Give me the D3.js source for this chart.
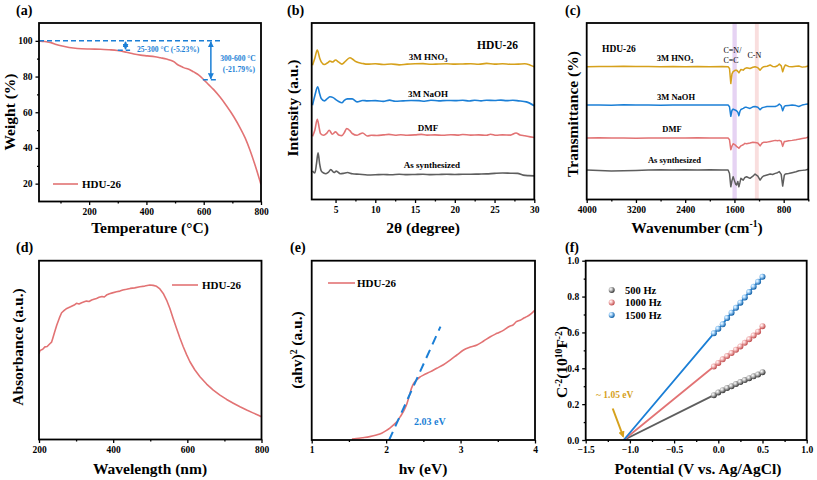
<!DOCTYPE html>
<html><head><meta charset="utf-8">
<script src="https://cdn.jsdelivr.net/npm/d3@7"></script>
<style>body{margin:0;background:#fff}svg{display:block}</style>
</head><body><svg id="c" width="817" height="480" font-family="Liberation Serif, Times New Roman, serif"></svg>
<script>
// ---------- DATA ----------
// (a) TGA
const tgaData = [[25,100],[45,99.6],[67,99],[85,98],[102,97.2],[130,96.3],[159,95.7],[200,95.4],[240,95.3],[270,95.0],[298,94.6],[330,93.6],[356,92.6],[380,92],[403,91.6],[430,91.1],[449,90.5],[470,89.8],[484,89.1],[497,88.2],[507,86.9],[520,85.8],[530,85],[550,84],[565,82.6],[583,80.8],[600,78.3],[617,75.5],[634,72.8],[657,68.5],[680,63.5],[705,57.5],[727,51.3],[745,45.5],[761,39],[780,30],[800,19.5]];
const tgaXTicks = [200,400,600,800], tgaXMinor = [100,300,500,700];
const tgaYTicks = [20,40,60,80,100], tgaYMinor = [30,50,70,90];
const tgaStep1 = {x:327, from:100, to:94.77, label:"25-300 °C (-5.23%)"};
const tgaStep2 = {x:625, from:100, to:78.21, label1:"300-600 °C", label2:"(-21.79%)"};

// (b) PXRD  [2theta, relative intensity]
const xrdNames = ["As synthesized","DMF","3M NaOH","3M HNO3"];
const xrdOffsets = [14.2, 36.4, 55.9, 76.7];
const xrdAs = [[2.1,1.9],[2.4,0.8],[2.6,6],[2.8,12.3],[3.0,6],[3.2,2.0],[3.5,0.8],[3.8,0.4],[4.1,1.2],[4.4,2.7],[4.8,1.1],[5.1,1.9],[5.6,0.4],[6.0,0.6],[6.5,1.1],[7.1,0.4],[8,0.1],[9,-0.3],[10,-0.2],[11,0],[12,-0.2],[13,0.1],[14,-0.1],[15,0],[16,0.1],[17,-0.1],[18,0],[19,0.1],[20,0],[21,0.1],[22,0.1],[23,0.2],[24,0.3],[25,0.6],[26,0.8],[27,0.7],[27.9,0.6],[28.6,-0.4],[29.3,-0.7],[30,-0.8]];
const xrdDMF = [[2.1,-0.6],[2.4,3],[2.7,9.1],[2.95,4],[3.1,1],[3.5,0],[3.9,1.2],[4.2,2.8],[4.6,0.6],[5.0,1.9],[5.4,0.2],[5.8,-0.2],[6.1,1.5],[6.4,3.8],[6.8,2.6],[7.1,1],[7.7,0],[8.0,0.6],[8.4,1.3],[9.0,-0.4],[9.5,0],[10.2,-0.1],[11,0.2],[11.7,0.5],[12.5,0],[13.2,0.3],[14,0],[15,0.2],[15.8,0.5],[16.5,0.1],[17.5,0.2],[18.5,0],[19.5,0.3],[20.5,0.1],[21,0.4],[22,0.1],[23,0.2],[24,0],[24.5,0.6],[25.2,0],[26,0.2],[27,0.1],[27.7,1.3],[28.2,0.2],[28.8,-0.3],[29.5,-0.9],[30,-1.3]];
const xrdNaOH = [[2.1,-2.5],[2.4,3],[2.75,8],[3.0,4],[3.2,1.3],[3.6,0],[4.0,1.4],[4.3,2.3],[4.7,1.8],[5.0,0.8],[5.4,-0.4],[5.8,-1.1],[6.1,0.3],[6.5,1.1],[7.1,1.1],[7.7,-0.6],[8.4,0.2],[9,0],[10,0.1],[11,-0.3],[11.8,0.4],[12.5,-0.2],[13.5,0],[14.5,0.2],[15.5,0.1],[16.2,-0.2],[17,0.3],[18,0],[19,0.2],[20,0.1],[21,0.3],[21.8,-0.1],[22.5,0.3],[23.3,0],[24,0.3],[25,0.2],[25.8,0.4],[26.5,0.1],[27.3,0.3],[28,0],[29,-0.6],[30,-2.8]];
const xrdHNO3 = [[2.1,-0.6],[2.4,3.5],[2.7,8],[3.0,3.5],[3.2,1.3],[3.6,-0.2],[4.0,0.8],[4.3,1.7],[4.6,1.2],[5.0,2.3],[5.4,1.1],[5.8,0],[6.2,1.4],[6.8,3.6],[7.2,2.6],[7.6,1.3],[8.4,0.4],[9,0],[10,0.2],[11,-0.2],[12,0.1],[13,-0.4],[14,0],[15,0.2],[16,0.3],[17,-0.1],[18,0.1],[19,0.2],[20,0],[21,0.1],[22,0.2],[23,-0.1],[24,0.4],[25,0],[26,0.2],[27,-0.1],[28,0],[28.8,0.2],[29.5,-0.6],[30,-1.5]];
const xrdXTicks = [5,10,15,20,25,30], xrdXMinor = [7.5,12.5,17.5,22.5,27.5];

// (c) FTIR [wavenumber, relative transmittance]
const irOffsets = [16.7, 34.8, 53.5, 75.2];
const irAs = [[4000,0],[3800,-0.3],[3600,-0.6],[3400,-0.4],[3200,-0.2],[3000,0],[2800,0.1],[2600,0],[2400,0.1],[2200,0],[2000,0.1],[1800,0],[1703,0],[1680,-2],[1659,-9.5],[1640,-6],[1621,-3.8],[1600,-6],[1580,-8],[1566,-8.5],[1545,-6.5],[1528,-9.5],[1510,-7],[1495,-4.7],[1457,-5.7],[1430,-4.2],[1402,-3.8],[1347,-4.7],[1300,-3.5],[1265,-2.3],[1220,-3.4],[1183,-5.7],[1150,-4],[1128,-3.4],[1070,-2.8],[1019,-2.3],[980,-2.5],[937,-1.9],[900,-1.5],[871,-0.9],[840,-2.5],[816,-9.1],[790,-3],[773,-2.3],[720,-2],[663,-1.5],[600,-1],[554,-0.4],[500,-0.2],[445,0],[400,0.4]];
const irDMF = [[4000,0],[3800,0.2],[3600,0],[3400,0.1],[3200,-0.1],[3000,0.1],[2800,0],[2600,0.1],[2400,0],[2200,0.2],[2000,0],[1800,0.1],[1703,0],[1680,-1],[1659,-6.6],[1640,-4.5],[1621,-3.2],[1590,-3.8],[1566,-4.7],[1545,-5.2],[1528,-5.7],[1495,-4.4],[1457,-3.8],[1430,-3],[1402,-3.2],[1347,-2.8],[1300,-2.4],[1265,-2.5],[1220,-2.8],[1183,-4.4],[1150,-2.8],[1128,-2.4],[1070,-2.3],[1019,-1.9],[937,-1.3],[900,-1.5],[871,-1.3],[840,-1.8],[816,-4.7],[790,-2],[773,-1.9],[720,-1.5],[663,-1.3],[600,-1],[554,-0.6],[500,-0.3],[445,0],[400,0.6]];
const irNaOH = [[4000,0],[3800,0.1],[3600,-0.1],[3400,0.2],[3200,0],[3000,0.1],[2800,-0.1],[2600,0],[2400,0.1],[2200,0],[2000,0.1],[1800,0],[1703,0],[1680,-1],[1659,-6.4],[1640,-3],[1621,-2.3],[1590,-2.8],[1566,-3.2],[1545,-4],[1528,-6],[1510,-3.5],[1495,-2.5],[1457,-1.9],[1430,-1.3],[1402,-1.3],[1347,-1.9],[1300,-1],[1265,-0.8],[1220,-1.2],[1183,-2.6],[1150,-1.5],[1128,-1.3],[1070,-0.8],[1019,-0.8],[937,-0.8],[900,-0.3],[871,0.6],[840,-0.4],[816,-3.2],[790,-0.8],[773,-0.4],[720,-0.2],[663,0],[600,-0.3],[554,-0.8],[500,0],[445,0.4],[400,0.6]];
const irHNO3 = [[4000,0],[3800,0.2],[3600,0.1],[3400,0.3],[3200,0.1],[3000,0.2],[2800,0],[2600,0.1],[2400,0],[2200,0.1],[2000,0],[1800,0.1],[1703,0],[1680,-1],[1659,-9.5],[1640,-4],[1621,-2.8],[1590,-2],[1566,-1.9],[1545,-2.6],[1528,-3.4],[1495,-1.5],[1457,-1.9],[1430,-1],[1402,-0.6],[1347,-1],[1300,-0.3],[1265,0],[1220,-0.5],[1183,-1.9],[1150,-0.5],[1128,0],[1070,0.3],[1019,1],[980,0.2],[937,0],[900,0.6],[871,1.5],[840,0.5],[816,-2.8],[790,0],[773,1],[720,0.2],[663,0],[600,0.3],[554,0.4],[500,-0.2],[445,0],[400,0.4]];
const irXTicks = [4000,3200,2400,1600,800], irXMinor = [3600,2800,2000,1200,400];
const irBands = [[1632,1562],[1268,1205]];
const irBandLabels = ["C=N/","C=C","C-N"];

// (d) UV-vis
const uvData = [[200,0.48],[202,0.495],[205,0.5],[210,0.505],[216,0.518],[222,0.52],[230,0.537],[234,0.545],[237,0.565],[242,0.6],[248,0.64],[255,0.68],[261,0.709],[268,0.722],[275,0.733],[285,0.742],[295,0.752],[301,0.762],[308,0.758],[315,0.765],[322,0.77],[328,0.774],[335,0.772],[342,0.78],[348,0.784],[355,0.789],[362,0.795],[370,0.8],[376,0.797],[382,0.808],[390,0.815],[398,0.82],[409,0.826],[418,0.83],[426,0.836],[436,0.84],[446,0.845],[458,0.848],[472,0.854],[485,0.858],[499,0.864],[508,0.862],[517,0.857],[526,0.842],[535,0.817],[544,0.78],[553,0.733],[562,0.676],[571,0.621],[580,0.568],[589,0.519],[598,0.475],[607,0.435],[620,0.39],[634,0.351],[652,0.31],[670,0.276],[688,0.248],[706,0.224],[724,0.203],[742,0.183],[760,0.165],[777,0.149],[790,0.137],[800,0.127]];
const uvXTicks = [200,400,600,800], uvXMinor = [300,500,700];

// (e) Tauc
const taucData = [[1.54,0.006],[1.6,0.008],[1.69,0.013],[1.78,0.019],[1.87,0.028],[1.94,0.038],[2.0,0.052],[2.05,0.066],[2.1,0.084],[2.15,0.105],[2.19,0.13],[2.24,0.165],[2.28,0.204],[2.31,0.245],[2.34,0.288],[2.37,0.315],[2.41,0.335],[2.45,0.35],[2.5,0.362],[2.59,0.38],[2.68,0.4],[2.77,0.42],[2.86,0.446],[2.95,0.474],[3.04,0.502],[3.13,0.518],[3.22,0.53],[3.31,0.552],[3.4,0.576],[3.49,0.595],[3.58,0.613],[3.66,0.635],[3.7,0.64],[3.75,0.66],[3.8,0.668],[3.85,0.68],[3.89,0.688],[3.95,0.705],[4.0,0.725]];
const taucFit = [[2.04,0],[2.73,0.632]];
const taucLabel = "2.03 eV";
const taucXTicks = [1,2,3,4], taucXMinor = [1.5,2.5,3.5];

// (f) Mott-Schottky
const msV = [-0.05,0,0.05,0.1,0.15,0.2,0.25,0.3,0.35,0.4,0.45,0.5];
const ms500 = [0.25,0.265,0.278,0.29,0.30,0.312,0.323,0.334,0.345,0.355,0.365,0.378];
const ms1000 = [0.41,0.43,0.45,0.468,0.485,0.503,0.522,0.542,0.562,0.583,0.604,0.635];
const ms1500 = [0.595,0.62,0.645,0.68,0.71,0.737,0.766,0.795,0.825,0.855,0.882,0.91];
const msNames = ["500 Hz","1000 Hz","1500 Hz"];
const msIntercept = -1.07;
const msLabel = "~ 1.05 eV";
const msXTicks = [-1.5,-1.0,-0.5,0.0,0.5,1.0], msXMinor = [-1.25,-0.75,-0.25,0.25,0.75];
const msYTicks = [0,0.2,0.4,0.6,0.8,1.0], msYMinor = [0.1,0.3,0.5,0.7,0.9];

// ---------- STYLE ----------
const FONT = "Liberation Serif, Times New Roman, serif";
const RED = "#e27374", GRAY = "#5e5e5e", BLUE = "#1b7fd6", GOLD = "#d6a11c";
const svg = d3.select("#c");
svg.append("rect").attr("width",817).attr("height",480).attr("fill","#fff");
const defs = svg.append("defs");

let clipId = 0;
function panel(o){
  const g = svg.append("g");
  const x = d3.scaleLinear().domain(o.xd).range([o.l,o.r]);
  const y = d3.scaleLinear().domain(o.yd).range([o.b,o.t]);
  const id = "clip"+(clipId++);
  defs.append("clipPath").attr("id",id).append("rect").attr("x",o.l).attr("y",o.t).attr("width",o.r-o.l).attr("height",o.b-o.t);
  const plot = g.append("g").attr("clip-path",`url(#${id})`);
  const axG = g.append("g");
  function style(sel){
    sel.attr("font-family",FONT);
    sel.select(".domain").remove();
    sel.selectAll(".tick line").attr("stroke","#000").attr("stroke-width",1.3);
    sel.selectAll(".tick text").attr("font-size","9.5px").attr("font-weight","bold").attr("fill","#000")
       .attr("font-family",FONT);
  }
  axG.append("g").attr("transform",`translate(0,${o.b})`)
    .call(d3.axisBottom(x).tickValues(o.xMinor).tickSize(2).tickFormat("")).call(style);
  axG.append("g").attr("transform",`translate(0,${o.b})`)
    .call(d3.axisBottom(x).tickValues(o.xt).tickSize(3.5).tickPadding(3).tickFormat(o.xf||(d=>d))).call(style);
  if(o.yt){
    axG.append("g").attr("transform",`translate(${o.l},0)`)
      .call(d3.axisLeft(y).tickValues(o.yMinor).tickSize(2).tickFormat("")).call(style);
    axG.append("g").attr("transform",`translate(${o.l},0)`)
      .call(d3.axisLeft(y).tickValues(o.yt).tickSize(3.5).tickPadding(3).tickFormat(o.yf||(d=>d))).call(style);
  }
  return {g, plot, x, y, finish(){
    g.append("rect").attr("x",o.l).attr("y",o.t).attr("width",o.r-o.l).attr("height",o.b-o.t)
      .attr("fill","none").attr("stroke","#000").attr("stroke-width",1.8);
  }};
}
function txt(s, x, y, size, opts={}){
  const t = svg.append("text").attr("x",x).attr("y",y).attr("font-size",size+"px")
    .attr("font-family",FONT)
    .attr("font-weight",opts.weight||"bold").attr("fill",opts.fill||"#000")
    .attr("text-anchor",opts.anchor||"start");
  if(opts.rotate){ t.attr("x",0).attr("y",0).attr("transform",`translate(${x},${y}) rotate(-90)`).attr("dy","0.35em"); }
  if(Array.isArray(s)){
    s.forEach(p=>{
      const sp = t.append("tspan").text(p.t);
      if(p.sup){ sp.attr("font-size",(size*0.62)+"px").attr("dy",-size*0.38); }
      else if(p.sub){ sp.attr("font-size",(size*0.65)+"px").attr("dy",size*0.25); }
      if(p.back) sp.attr("dy",p.back);
    });
  } else t.text(s);
  return t;
}
const lineGen = (x,y,curve)=> d3.line().x(d=>x(d[0])).y(d=>y(d[1])).curve(curve||d3.curveLinear);

// ---------- (a) ----------
{
  const P = panel({l:39,r:261,t:23,b:201.5,xd:[25,800],yd:[10,110],xt:tgaXTicks,xMinor:tgaXMinor,yt:tgaYTicks,yMinor:tgaYMinor});
  P.plot.append("path").datum(tgaData).attr("d",lineGen(P.x,P.y,d3.curveMonotoneX)).attr("fill","none").attr("stroke",RED).attr("stroke-width",1.6);
  const ann = P.g.append("g").attr("stroke",BLUE).attr("stroke-width",1.5).attr("fill","none");
  ann.append("line").attr("x1",P.x(25)).attr("x2",P.x(657)).attr("y1",P.y(100)).attr("y2",P.y(100)).attr("stroke-dasharray","5,3");
  const mk = defs.append("marker").attr("id","arrB").attr("viewBox","0 0 10 10").attr("refX",9).attr("refY",5)
    .attr("markerWidth",4).attr("markerHeight",4).attr("orient","auto-start-reverse");
  mk.append("path").attr("d","M0,0 L10,5 L0,10 z").attr("fill",BLUE);
  [tgaStep1,tgaStep2].forEach((s,i)=>{
    ann.append("line").attr("x1",P.x(s.x)).attr("x2",P.x(s.x)).attr("y1",P.y(s.from)+1).attr("y2",P.y(s.to)-1)
      .attr("marker-start","url(#arrB)").attr("marker-end","url(#arrB)");
    const w = i===0?[300,343]:[597,647];
    ann.append("line").attr("x1",P.x(w[0])).attr("x2",P.x(w[1])).attr("y1",P.y(s.to)).attr("y2",P.y(s.to)).attr("stroke-dasharray","5,3");
  });
  txt(tgaStep1.label,137,51.5,7.6,{fill:BLUE});
  txt(tgaStep2.label1,238,61,7.6,{fill:BLUE,anchor:"middle"});
  txt(tgaStep2.label2,239,72,7.6,{fill:BLUE,anchor:"middle"});
  P.g.append("line").attr("x1",53).attr("x2",78).attr("y1",184).attr("y2",184).attr("stroke",RED).attr("stroke-width",1.6);
  txt("HDU-26",82,188,11);
  P.finish();
  txt("(a)",16,15,14);
  txt("Weight (%)",10,112,15.5,{rotate:true,anchor:"middle"});
  txt("Temperature (°C)",150,233,15.5,{anchor:"middle"});
}
// ---------- (b) ----------
{
  const P = panel({l:311.7,r:534.3,t:23,b:199.5,xd:[2,30],yd:[0,100],xt:xrdXTicks,xMinor:xrdXMinor});
  const sets = [xrdAs,xrdDMF,xrdNaOH,xrdHNO3], cols=[GRAY,RED,BLUE,GOLD];
  sets.forEach((s,i)=>{
    P.plot.append("path").datum(s.map(d=>[d[0],d[1]+xrdOffsets[i]])).attr("d",lineGen(P.x,P.y,d3.curveMonotoneX))
      .attr("fill","none").attr("stroke",cols[i]).attr("stroke-width",1.6);
  });
  P.finish();
  txt("HDU-26",477,49,11.5);
  txt([{t:"3M HNO"},{t:"3",sub:true}],428,60,9,{anchor:"middle"});
  txt("3M NaOH",428,96.5,9,{anchor:"middle"});
  txt("DMF",428,131,9,{anchor:"middle"});
  txt("As synthesized",432,167.5,9,{anchor:"middle"});
  txt("(b)",287,15,14);
  txt("Intensity (a.u.)",293,108,15.5,{rotate:true,anchor:"middle"});
  txt("2θ (degree)",423,233,15.5,{anchor:"middle"});
}
// ---------- (c) ----------
{
  const P = panel({l:586.7,r:808.3,t:23,b:199.5,xd:[4000,400],yd:[0,100],xt:irXTicks,xMinor:irXMinor});
  const bandCols = ["#e6d3f3","#f9dede"];
  irBands.forEach((b,i)=>{
    P.plot.append("rect").attr("x",P.x(b[0])).attr("width",P.x(b[1])-P.x(b[0])).attr("y",23).attr("height",176.5).attr("fill",bandCols[i]);
  });
  const sets = [irAs,irDMF,irNaOH,irHNO3], cols=[GRAY,RED,BLUE,GOLD];
  sets.forEach((s,i)=>{
    P.plot.append("path").datum(s.map(d=>[d[0],d[1]+irOffsets[i]])).attr("d",lineGen(P.x,P.y))
      .attr("fill","none").attr("stroke",cols[i]).attr("stroke-width",1.5).attr("stroke-linejoin","round");
  });
  P.finish();
  txt("HDU-26",602,52,9.5);
  txt([{t:"3M HNO"},{t:"3",sub:true}],675,61,8.5,{anchor:"middle"});
  txt("3M NaOH",676,100,8.5,{anchor:"middle"});
  txt("DMF",672,131.5,8.5,{anchor:"middle"});
  txt("As synthesized",674.5,163,8.5,{anchor:"middle"});
  txt(irBandLabels[0],723.5,53,8,{weight:"normal"});
  txt(irBandLabels[1],723.5,63,8,{weight:"normal"});
  txt(irBandLabels[2],747.5,58,8,{weight:"normal"});
  txt("(c)",565,15,14);
  txt("Transmittance (%)",573,114,15.5,{rotate:true,anchor:"middle"});
  txt([{t:"Wavenumber (cm"},{t:"-1",sup:true},{t:")",back:5.9}],697,233,15.5,{anchor:"middle"});
}
// ---------- (d) ----------
{
  const P = panel({l:39,r:261.5,t:260.7,b:439.5,xd:[200,800],yd:[0,1],xt:uvXTicks,xMinor:uvXMinor});
  P.plot.append("path").datum(uvData).attr("d",lineGen(P.x,P.y)).attr("fill","none").attr("stroke",RED).attr("stroke-width",1.6).attr("stroke-linejoin","round");
  P.g.append("line").attr("x1",172).attr("x2",198).attr("y1",285).attr("y2",285).attr("stroke",RED).attr("stroke-width",1.6);
  txt("HDU-26",202,289,11);
  P.finish();
  txt("(d)",16,252,14);
  txt("Absorbance (a.u.)",18,347,15.5,{rotate:true,anchor:"middle"});
  txt("Wavelength (nm)",150,474,15.5,{anchor:"middle"});
}
// ---------- (e) ----------
{
  const P = panel({l:311.7,r:535,t:260.7,b:440,xd:[1,4],yd:[0,1],xt:taucXTicks,xMinor:taucXMinor});
  P.plot.append("path").datum(taucData).attr("d",lineGen(P.x,P.y,d3.curveMonotoneX)).attr("fill","none").attr("stroke",RED).attr("stroke-width",1.6);
  P.plot.append("path").datum(taucFit).attr("d",lineGen(P.x,P.y)).attr("fill","none").attr("stroke",BLUE).attr("stroke-width",2).attr("stroke-dasharray","9,6");
  P.g.append("line").attr("x1",328).attr("x2",355).attr("y1",283).attr("y2",283).attr("stroke",RED).attr("stroke-width",1.6);
  txt("HDU-26",357,287,11);
  txt(taucLabel,414,425,10,{fill:BLUE});
  P.finish();
  txt("(e)",290,252,14);
  txt([{t:"(ahv)"},{t:"2",sup:true},{t:" (a.u.)",back:5.9}],297,350,15.5,{rotate:true,anchor:"middle"});
  txt("hv (eV)",423,474,15.5,{anchor:"middle"});
}
// ---------- (f) ----------
{
  const P = panel({l:585.7,r:806.7,t:260.7,b:440,xd:[-1.5,1.0],yd:[0,1],xt:msXTicks,xMinor:msXMinor,xf:d3.format(".1f"),yt:msYTicks,yMinor:msYMinor,yf:d3.format(".1f")});
  const sets=[ms500,ms1000,ms1500], cols=[GRAY,RED,BLUE], light=["#c8c8c8","#f7c4c4","#a9d6fb"], dark=["#3a3a3a","#c24f50","#0d5ea6"];
  sets.forEach((s,i)=>{
    const gr = defs.append("radialGradient").attr("id","sph"+i).attr("cx","35%").attr("cy","35%").attr("r","65%");
    gr.append("stop").attr("offset","0%").attr("stop-color","#fff");
    gr.append("stop").attr("offset","35%").attr("stop-color",light[i]);
    gr.append("stop").attr("offset","100%").attr("stop-color",dark[i]);
    const pts = [[msIntercept,0]].concat(msV.map((v,j)=>[v,s[j]]));
    P.plot.append("path").datum(pts).attr("d",lineGen(P.x,P.y)).attr("fill","none").attr("stroke",cols[i]).attr("stroke-width",1.8);
  });
  sets.forEach((s,i)=>{
    P.plot.selectAll(null).data(msV.map((v,j)=>[v,s[j]])).join("circle")
      .attr("cx",d=>P.x(d[0])).attr("cy",d=>P.y(d[1])).attr("r",3).attr("fill",`url(#sph${i})`);
    svg.append("circle").attr("cx",611.7).attr("cy",290+i*12.5).attr("r",3).attr("fill",`url(#sph${i})`);
    txt(msNames[i],625,293.5+i*12.5,10.5);
  });
  const mk = defs.append("marker").attr("id","arrG").attr("viewBox","0 0 10 10").attr("refX",8).attr("refY",5)
    .attr("markerWidth",3.2).attr("markerHeight",3.2).attr("orient","auto");
  mk.append("path").attr("d","M0,0 L10,5 L0,10 z").attr("fill",GOLD);
  svg.append("line").attr("x1",612.7).attr("y1",408.5).attr("x2",P.x(msIntercept)-0.5).attr("y2",436.5)
    .attr("stroke",GOLD).attr("stroke-width",2).attr("marker-end","url(#arrG)");
  txt(msLabel,596,398,9.5,{fill:GOLD});
  P.finish();
  txt("(f)",565,252,14);
  txt([{t:"C"},{t:"-2",sup:true},{t:"(10",back:5.9},{t:"10",sup:true},{t:"F",back:5.9},{t:"-2",sup:true},{t:")",back:5.9}],562,362,15.5,{rotate:true,anchor:"middle"});
  txt("Potential (V vs. Ag/AgCl)",698,474,15.5,{anchor:"middle"});
}
</script></body></html>
